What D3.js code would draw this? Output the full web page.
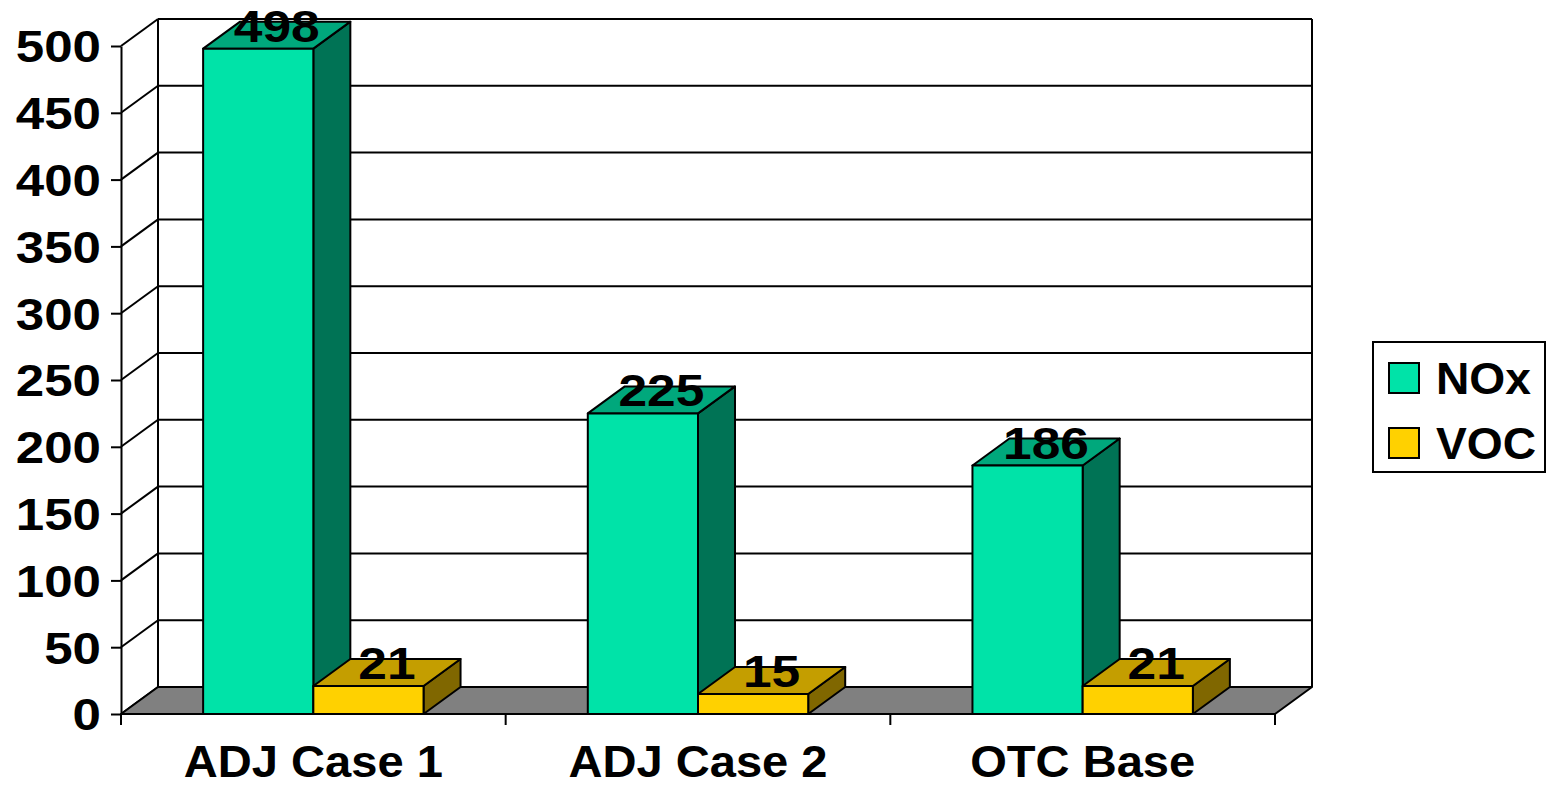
<!DOCTYPE html>
<html>
<head>
<meta charset="utf-8">
<script src="https://cdn.jsdelivr.net/npm/d3@7"></script>
<style>
  html, body { margin: 0; padding: 0; background: #fff; }
  svg text { font-family: "Liberation Sans", Arial, sans-serif; font-weight: bold; fill: #000; }
</style>
</head>
<body>
<svg id="chart" width="1548" height="787"></svg>
<script>
// Emissions by case (tons/day)
const categories = ["ADJ Case 1", "ADJ Case 2", "OTC Base"];
const series = ["NOx", "VOC"];
const noxValues = [498, 225, 186];
const vocValues = [21, 15, 21];
const yTicks = [0, 50, 100, 150, 200, 250, 300, 350, 400, 450, 500];

const faceColors = {
  NOx: { front: "#00E3A8", top: "#00A87C", side: "#007355" },
  VOC: { front: "#FFD100", top: "#C49E00", side: "#806700" }
};

const svg = d3.select("#chart");
const W = 2;               // line width
const DX = 37, DY = 27;    // depth offset of the 3D box

const plot = { left: 121, right: 1275, top: 46, bottom: 714 };

const y = d3.scaleLinear().domain([0, 500]).range([plot.bottom, plot.top]);
const x0 = d3.scaleBand().domain(categories).range([plot.left, plot.right]).padding(0);
const bw = x0.bandwidth();
const x1 = d3.scaleBand().domain(series).range([bw * 0.2135, bw * 0.7865]).padding(0);

const rows = categories.map((c, i) => ({ cat: c, NOx: noxValues[i], VOC: vocValues[i] }));

// Widen text horizontally (wide bold face)
function widen(sel, factor) {
  sel.each(function () {
    const n = this.getComputedTextLength();
    d3.select(this).attr("textLength", n * factor).attr("lengthAdjust", "spacingAndGlyphs");
  });
}

// Back wall gridlines
const g = svg.append("g");
g.selectAll("line.grid").data(yTicks).join("line")
  .attr("x1", plot.left + DX).attr("x2", plot.right + DX)
  .attr("y1", d => y(d) - DY).attr("y2", d => y(d) - DY)
  .attr("stroke", "#000").attr("stroke-width", W);

// Left wall diagonals
g.selectAll("line.side").data(yTicks).join("line")
  .attr("x1", plot.left).attr("x2", plot.left + DX)
  .attr("y1", d => y(d)).attr("y2", d => y(d) - DY)
  .attr("stroke", "#000").attr("stroke-width", W);

// Wall edges
g.append("line")
  .attr("x1", plot.left + DX).attr("x2", plot.left + DX)
  .attr("y1", y(500) - DY).attr("y2", y(0) - DY)
  .attr("stroke", "#000").attr("stroke-width", W);
g.append("line")
  .attr("x1", plot.right + DX).attr("x2", plot.right + DX)
  .attr("y1", y(500) - DY).attr("y2", y(0) - DY)
  .attr("stroke", "#000").attr("stroke-width", W);

// Floor
g.append("path")
  .attr("d", `M${plot.left},${y(0)} L${plot.right},${y(0)} L${plot.right + DX},${y(0) - DY} L${plot.left + DX},${y(0) - DY} Z`)
  .attr("fill", "#808080").attr("stroke", "#000").attr("stroke-width", W)
  .attr("stroke-linejoin", "round");

// Bars: front, top and side faces
const bars = [];
rows.forEach(r => series.forEach(s => bars.push({ cat: r.cat, s, v: r[s] })));

const barG = svg.append("g");
bars.forEach(b => {
  const xl = x0(b.cat) + x1(b.s);
  const xr = xl + x1.bandwidth();
  const yt = y(b.v), yb = y(0);
  const c = faceColors[b.s];
  const bg = barG.append("g").attr("stroke", "#000").attr("stroke-width", W).attr("stroke-linejoin", "round");
  bg.append("path").attr("fill", c.side)
    .attr("d", `M${xr},${yb} L${xr + DX},${yb - DY} L${xr + DX},${yt - DY} L${xr},${yt} Z`);
  bg.append("path").attr("fill", c.top)
    .attr("d", `M${xl},${yt} L${xr},${yt} L${xr + DX},${yt - DY} L${xl + DX},${yt - DY} Z`);
  bg.append("path").attr("fill", c.front)
    .attr("d", `M${xl},${yb} L${xr},${yb} L${xr},${yt} L${xl},${yt} Z`);
});

// Value labels
const vl = svg.append("g").selectAll("text").data(bars).join("text")
  .attr("x", d => x0(d.cat) + x1(d.s) + x1.bandwidth() / 2 + DX / 2)
  .attr("y", d => y(d.v) - 7)
  .attr("text-anchor", "middle")
  .attr("font-size", 44)
  .text(d => d.v);
widen(vl, 1.17);

// Value axis
const yAxis = d3.axisLeft(y).tickValues(yTicks).tickSize(10).tickPadding(10).tickSizeOuter(0);
const ya = svg.append("g").attr("transform", `translate(${plot.left},0)`).call(yAxis);
ya.selectAll("path, line").attr("stroke", "#000").attr("stroke-width", W);
ya.selectAll("text").attr("font-size", 44).attr("dy", "0.36em")
  .style("font-family", '"Liberation Sans", Arial, sans-serif').style("font-weight", "bold");
widen(ya.selectAll("text"), 1.16);

// Category axis
const xAxis = d3.axisBottom(x0).tickSize(0).tickPadding(32);
const xa = svg.append("g").attr("transform", `translate(0,${plot.bottom})`).call(xAxis);
xa.select("path.domain").remove();
xa.selectAll("text").attr("font-size", 44)
  .style("font-family", '"Liberation Sans", Arial, sans-serif').style("font-weight", "bold");
widen(xa.selectAll("text"), 1.07);
xa.append("line").attr("x1", plot.left).attr("x2", plot.right).attr("y1", 0).attr("y2", 0)
  .attr("stroke", "#000").attr("stroke-width", W);
const edges = categories.map(c => x0(c)).concat([plot.right]);
xa.selectAll("line.edge").data(edges).join("line").attr("class", "edge")
  .attr("x1", d => d).attr("x2", d => d).attr("y1", 0).attr("y2", 11)
  .attr("stroke", "#000").attr("stroke-width", W);

// Legend
const lg = svg.append("g").attr("transform", "translate(1373,342)");
lg.append("rect").attr("width", 172).attr("height", 130)
  .attr("fill", "#fff").attr("stroke", "#000").attr("stroke-width", W);
series.forEach((s, i) => {
  const row = lg.append("g").attr("transform", `translate(16,${21 + i * 65})`);
  row.append("rect").attr("width", 30).attr("height", 30)
    .attr("fill", faceColors[s].front).attr("stroke", "#000").attr("stroke-width", W);
  const t = row.append("text").attr("x", 47).attr("y", 31).attr("font-size", 44).text(s);
  widen(t, 1.05);
});
</script>
</body>
</html>
